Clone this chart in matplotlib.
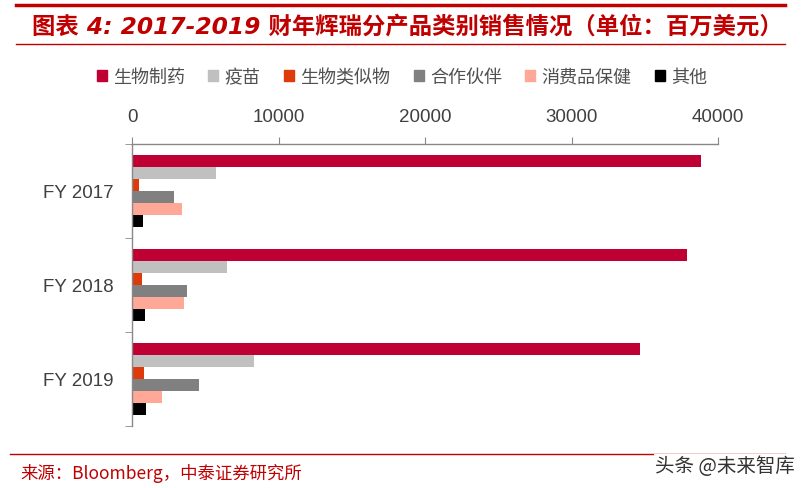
import matplotlib
matplotlib.use("Agg")
import matplotlib.pyplot as plt
from matplotlib.patches import Rectangle
from matplotlib.lines import Line2D
import numpy as np

plt.rcParams['font.family'] = ['Noto Sans CJK SC', 'DejaVu Sans']

categories = ["FY 2017", "FY 2018", "FY 2019"]
series_names = ["生物制药", "疫苗", "生物类似物", "合作伙伴", "消费品保健", "其他"]
biopharma = [38870, 37900, 34650]
vaccines = [5720, 6500, 8310]
biosimilars = [470, 710, 840]
alliance = [2890, 3780, 4590]
consumer = [3410, 3540, 2020]
other = [760, 890, 970]
xticks = [0, 10000, 20000, 30000, 40000]

series = [biopharma, vaccines, biosimilars, alliance, consumer, other]
colors = ["#BE0032", "#C0C0C0", "#DE3A0A", "#808080", "#FFA898", "#000000"]

W, H = 805, 489
fig = plt.figure(figsize=(W / 100, H / 100), dpi=100)

ax = fig.add_axes([132 / W, 1 - 427 / H, (718 - 132) / W, (427 - 145) / H])
y = np.arange(len(categories))
bh = 0.128
for i, (vals, c) in enumerate(zip(series, colors)):
    ax.barh(y + (i - 2.5) * bh, vals, height=bh, color=c, label=series_names[i])

ax.set_ylim(2.5, -0.5)
ax.set_xlim(0, 40000)
ax.set_yticks(y)
ax.set_yticklabels(categories, fontsize=13.5, color="#404040", family=["Liberation Sans"])
ax.set_yticks([-0.5, 0.5, 1.5, 2.5], minor=True)
ax.tick_params(axis='y', which='major', length=0, pad=13)
ax.tick_params(axis='y', which='minor', length=5, color="#888888", direction='out')
ax.xaxis.tick_top()
ax.set_xticks(xticks)
ax.set_xticklabels([str(v) for v in xticks], fontsize=13.5, color="#404040", family=["Liberation Sans"])
ax.tick_params(axis='x', length=5, color="#888888", direction='out', pad=9)
for s in ['bottom', 'right']:
    ax.spines[s].set_visible(False)
for s in ['top', 'left']:
    ax.spines[s].set_color("#888888")
    ax.spines[s].set_linewidth(1)

# legend
handles = [Rectangle((0, 0), 1, 1, color=c) for c in colors]
fig.legend(handles, series_names, loc='center', bbox_to_anchor=(402 / W, 1 - 78 / H),
           ncol=6, frameon=False, fontsize=13, handlelength=0.55, handleheight=0.55,
           handletextpad=0.35, columnspacing=1.3, labelcolor="#505050")

# title and decorative lines
red = "#C00000"
fig.add_artist(Line2D([16 / W, 785 / W], [1 - 6 / H, 1 - 6 / H], color=red, lw=2.5))
fig.add_artist(Line2D([16 / W, 785 / W], [1 - 45 / H, 1 - 45 / H], color=red, lw=1))
fig.text(32 / W, 1 - 27 / H, "图表 4: 2017-2019 财年辉瑞分产品类别销售情况（单位：百万美元）",
         fontsize=16.8, fontweight='bold', style='italic', color=red, va='center', ha='left',
         family=['DejaVu Sans', 'Noto Sans CJK SC'])

fig.add_artist(Line2D([10 / W, 785 / W], [1 - 455 / H, 1 - 455 / H], color=red, lw=1))
fig.text(20 / W, 1 - 474 / H, "来源：Bloomberg，中泰证券研究所", fontsize=12.5, color=red,
         va='center', ha='left')
fig.text(795 / W, 1 - 467 / H, "头条 @未来智库", fontsize=14, color="#333333",
         va='center', ha='right',
         bbox=dict(facecolor='white', edgecolor='none', pad=1))

fig.savefig("out.png", dpi=100)
